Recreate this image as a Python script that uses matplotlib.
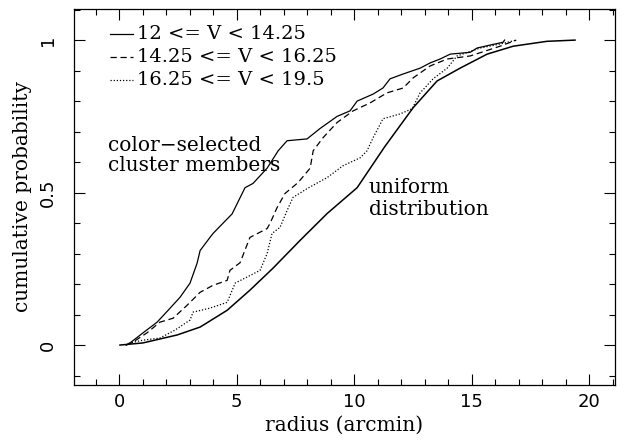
import matplotlib
matplotlib.use("Agg")
import matplotlib.pyplot as plt
from matplotlib.ticker import MultipleLocator

# bright sample 12 <= V < 14.25
r_bright = [0.30, 0.47, 1.02, 1.62, 2.09, 2.60, 3.02, 3.32, 3.45, 3.87, 4.00, 4.43,
            4.81, 5.36, 5.70, 6.30, 6.77, 7.15, 8.00, 8.55, 9.28, 9.83, 10.13, 10.81,
            11.23, 11.53, 12.09, 12.81, 13.23, 13.66, 14.09, 14.94, 15.23, 15.80, 16.34, 16.40]
p_bright = [0.0, 0.007, 0.04, 0.075, 0.114, 0.157, 0.203, 0.268, 0.31, 0.353, 0.366, 0.40,
            0.43, 0.516, 0.53, 0.58, 0.637, 0.67, 0.676, 0.71, 0.75, 0.768, 0.80, 0.823,
            0.843, 0.873, 0.889, 0.908, 0.925, 0.938, 0.954, 0.96, 0.974, 0.984, 0.993, 1.0]

# middle sample 14.25 <= V < 16.25
r_mid = [0.30, 0.60, 1.19, 1.74, 2.30, 2.89, 3.45, 4.00, 4.60, 4.72, 5.15, 5.57, 6.30,
         6.43, 6.72, 7.06, 7.62, 8.13, 8.26, 8.68, 9.28, 9.96, 10.68, 11.40, 12.09,
         12.51, 13.23, 13.96, 14.94, 16.21, 16.90]
p_mid = [0.0, 0.01, 0.04, 0.075, 0.088, 0.13, 0.173, 0.196, 0.212, 0.245, 0.27, 0.353, 0.382,
         0.40, 0.45, 0.497, 0.533, 0.58, 0.637, 0.68, 0.73, 0.768, 0.794, 0.827, 0.843,
         0.876, 0.915, 0.938, 0.948, 0.98, 1.0]

# faint sample 16.25 <= V < 19.5
r_faint = [0.30, 0.47, 1.02, 1.74, 2.38, 3.02, 3.15, 3.87, 4.60, 4.94, 6.00, 6.30, 6.51,
           6.85, 7.15, 7.40, 8.00, 8.85, 9.53, 10.26, 10.55, 10.81, 11.23, 11.96, 12.47,
           12.81, 13.36, 13.96, 14.38, 15.36, 16.21, 16.90]
p_faint = [0.0, 0.007, 0.016, 0.023, 0.049, 0.082, 0.108, 0.121, 0.14, 0.203, 0.245, 0.30,
           0.366, 0.386, 0.441, 0.484, 0.513, 0.549, 0.588, 0.614, 0.637, 0.68, 0.742, 0.758,
           0.775, 0.827, 0.873, 0.908, 0.948, 0.974, 0.987, 1.0]

# uniform distribution over the field
r_unif = [0.04, 1.02, 2.47, 3.45, 4.60, 5.57, 6.55, 7.70, 8.85, 10.13, 11.30, 12.51,
          13.53, 14.51, 15.66, 16.77, 18.20, 19.40]
p_unif = [0.0, 0.007, 0.033, 0.059, 0.114, 0.18, 0.252, 0.343, 0.431, 0.516, 0.65, 0.778,
          0.866, 0.908, 0.954, 0.98, 0.996, 1.0]

labels = ["12 <= V < 14.25", "14.25 <= V < 16.25", "16.25 <= V < 19.5"]

serif = "DejaVu Serif"
plt.rcParams["font.family"] = "DejaVu Sans"

fig = plt.figure(figsize=(6.29, 4.40), dpi=100)
ax = fig.add_axes([74 / 629, 55 / 440, 541 / 629, 376 / 440])

lw = 0.9
ax.plot(r_bright, p_bright, color="black", lw=lw, ls="-")
ax.plot(r_mid, p_mid, color="black", lw=lw, ls=(0, (5, 3)))
ax.plot(r_faint, p_faint, color="black", lw=lw, ls=(0, (1, 1.5)))
ax.plot(r_unif, p_unif, color="black", lw=1.1, ls="-")

ax.set_xlim(-1.915, 21.1)
ax.set_ylim(-0.131, 1.102)

ax.xaxis.set_major_locator(MultipleLocator(5))
ax.xaxis.set_minor_locator(MultipleLocator(1))
ax.yaxis.set_major_locator(MultipleLocator(0.5))
ax.yaxis.set_minor_locator(MultipleLocator(0.1))
ax.set_xticks([0, 5, 10, 15, 20])
ax.set_xticklabels(["0", "5", "10", "15", "20"])
ax.set_yticks([0, 0.5, 1])
ax.set_yticklabels(["0", "0.5", "1"], rotation=90, va="center")
ax.tick_params(which="both", direction="in", top=True, right=True, width=0.8,
               labelsize=13)
ax.tick_params(axis="x", pad=6)
ax.tick_params(axis="y", pad=12)
ax.tick_params(which="major", length=8)
ax.tick_params(which="minor", length=4)
for s in ax.spines.values():
    s.set_linewidth(0.9)

ax.set_xlabel("radius (arcmin)", family=serif, fontsize=14.5, labelpad=3)
ax.set_ylabel("cumulative probability", family=serif, fontsize=14.5, labelpad=5)

# legend lines drawn by hand in the upper left
styles = ["-", (0, (5, 3)), (0, (1, 1.5))]
leg_y = [0.934, 0.872, 0.811]
for lab, st, yy in zip(labels, styles, leg_y):
    ax.plot([0.066, 0.109], [yy, yy], transform=ax.transAxes, color="black", lw=lw, ls=st)
    ax.text(0.116, yy, lab, transform=ax.transAxes, family=serif, fontsize=14,
            va="center", ha="left")

ax.text(0.063, 0.61, "color\u2212selected\ncluster members", transform=ax.transAxes,
        family=serif, fontsize=14.5, va="center", ha="left", linespacing=1.05)
ax.text(0.545, 0.495, "uniform\ndistribution", transform=ax.transAxes,
        family=serif, fontsize=14.5, va="center", ha="left", linespacing=1.2)

fig.savefig("out.png", dpi=100)
